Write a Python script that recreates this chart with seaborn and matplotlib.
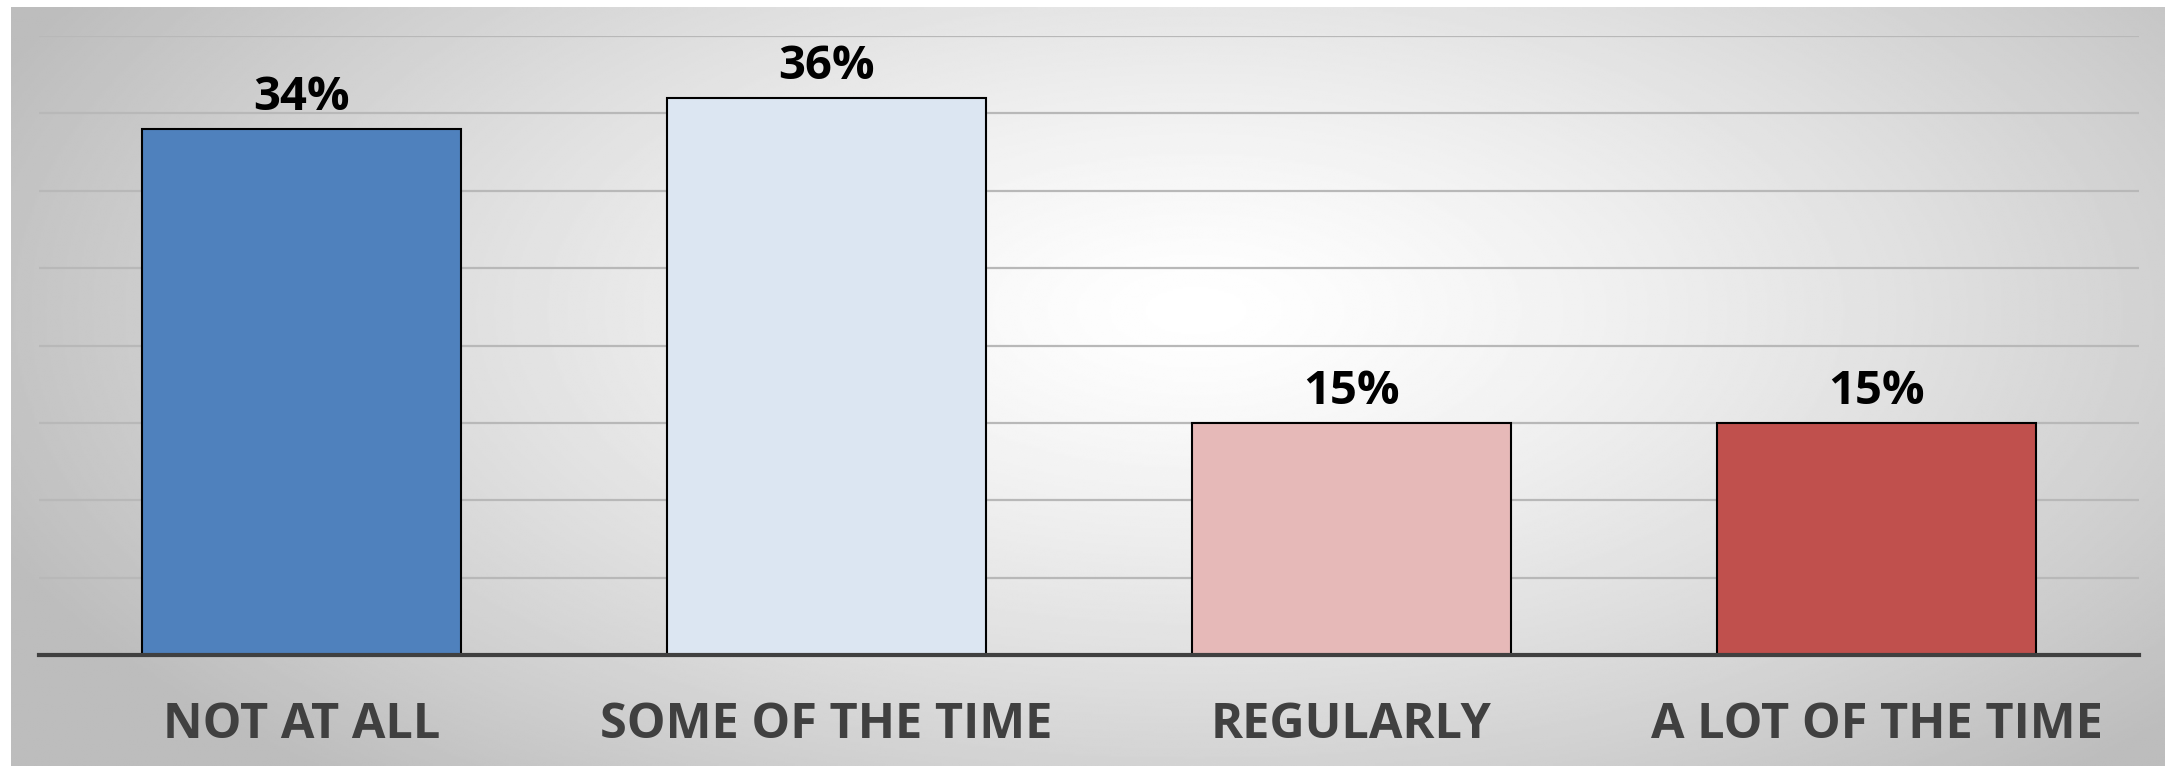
import numpy as np
import matplotlib
matplotlib.use("Agg")
import matplotlib.pyplot as plt
import seaborn as sns

# data
categories = ["NOT AT ALL", "SOME OF THE TIME", "REGULARLY", "A LOT OF THE TIME"]
values = [34, 36, 15, 15]
labels = ["34%", "36%", "15%", "15%"]
bar_colors = ["#4F81BD", "#DCE6F2", "#E6B9B8", "#C0504D"]

sns.set_theme(style="white")
plt.rcParams["font.family"] = ["Open Sans", "DejaVu Sans"]

fig = plt.figure(figsize=(21.76, 7.7), dpi=100)
fig.patch.set_facecolor("white")

# radial gradient panel behind the chart
bg = fig.add_axes([11 / 2176, 4 / 770, 2154 / 2176, 759 / 770], zorder=-1)
yy, xx = np.mgrid[0:1:400j, 0:1:1100j]
r = np.sqrt(((xx - 0.55) / 0.62) ** 2 + ((yy - 0.40) / 0.85) ** 2)
shade = np.clip(1.0 - 0.27 * r ** 1.3, 0.74, 1.0)
bg.imshow(shade, cmap="gray", vmin=0, vmax=1, aspect="auto", interpolation="bilinear")
bg.axis("off")

ax = fig.add_axes([39 / 2176, 115 / 770, 2100 / 2176, 619 / 770])
ax.set_facecolor("none")

sns.barplot(x=categories, y=values, hue=categories, palette=bar_colors,
            legend=False, width=0.606, edgecolor="black", linewidth=1.5,
            saturation=1, ax=ax)

for cont, lab in zip(ax.containers, labels):
    ax.bar_label(cont, labels=[lab], padding=6, fontsize=34,
                 fontweight="bold", color="black")

ax.set_xlim(-0.5, 3.5)
ax.set_ylim(0, 40)
ax.set_yticks(np.arange(0, 41, 5))
ax.set_yticklabels([])
ax.yaxis.grid(True, color="#b8b8b8", linewidth=1.6)
ax.set_axisbelow(True)
ax.tick_params(axis="y", length=0)
ax.tick_params(axis="x", length=0, pad=33, labelsize=35, labelcolor="#404040")
for t in ax.get_xticklabels():
    t.set_fontweight("bold")
ax.set_xlabel("")
ax.set_ylabel("")

for s in ["top", "right", "left"]:
    ax.spines[s].set_visible(False)
ax.spines["bottom"].set_color("#404040")
ax.spines["bottom"].set_linewidth(3)

fig.savefig("out.png", dpi=100)
